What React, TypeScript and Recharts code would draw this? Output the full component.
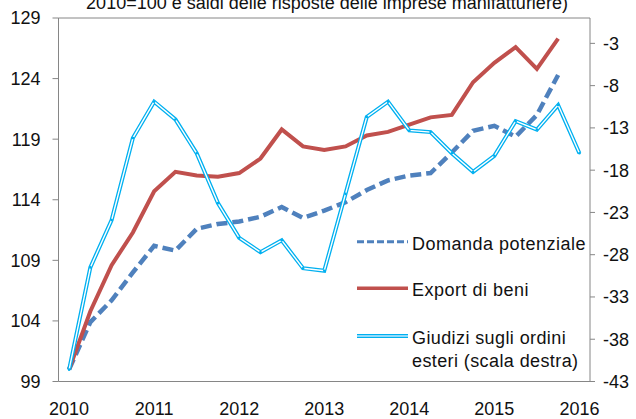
import React from "react";
import {
  LineChart,
  Line,
  XAxis,
  YAxis,
  ReferenceLine,
  Customized,
} from "recharts";

const periods = [
  "2010-T1", "2010-T2", "2010-T3", "2010-T4",
  "2011-T1", "2011-T2", "2011-T3", "2011-T4",
  "2012-T1", "2012-T2", "2012-T3", "2012-T4",
  "2013-T1", "2013-T2", "2013-T3", "2013-T4",
  "2014-T1", "2014-T2", "2014-T3", "2014-T4",
  "2015-T1", "2015-T2", "2015-T3", "2015-T4",
  "2016-T1",
];

const domandaPotenziale = [
  100.0, 103.9, 105.7, 108.0, 110.2, 109.8, 111.6, 112.0, 112.2, 112.6, 113.4, 112.5,
  113.1, 113.8, 114.8, 115.6, 116.0, 116.2, 117.9, 119.7, 120.1, 119.2, 121.0, 124.3, null,
];

const exportDiBeni = [
  100.0, 104.8, 108.6, 111.3, 114.7, 116.3, 116.0, 115.9, 116.2, 117.4, 119.8, 118.4,
  118.1, 118.4, 119.3, 119.6, 120.2, 120.8, 121.0, 123.7, 125.3, 126.6, 124.8, 127.3, null,
];

const giudiziOrdini = [
  -41.6, -29.5, -23.9, -14.2, -9.9, -12.0, -16.0, -21.9, -26.0, -27.7, -26.3, -29.6,
  -29.9, -20.8, -11.7, -9.9, -13.3, -13.5, -16.0, -18.2, -16.3, -12.2, -13.2, -10.3, -16.0,
];

const leftTicks = [99, 104, 109, 114, 119, 124, 129];
const rightTicks = [-43, -38, -33, -28, -23, -18, -13, -8, -3];

const legendLabels = ["Domanda potenziale", "Export di beni", "Giudizi sugli ordini", "esteri (scala destra)"];
const titleText = "2010=100 e saldi delle risposte delle imprese manifatturiere)";

const data = periods.map((p, i) => ({
  period: p,
  domanda: domandaPotenziale[i],
  export: exportDiBeni[i],
  giudizi: giudiziOrdini[i],
}));

const FONT = "'Liberation Sans', Arial, sans-serif";
const AXIS = "#868686";
const BLUE = "#4F81BD";
const RED = "#C0504D";
const CYAN = "#00B0F0";

const Overlay = () => (
  <g fontFamily={FONT} fontSize={18} fill="#111">
    <text x={327} y={9} textAnchor="middle">{titleText}</text>
    <line x1={357} x2={408} y1={241.7} y2={241.7} stroke={BLUE} strokeWidth={3} strokeDasharray="7 3" />
    <text x={412} y={249.5} letterSpacing={0.5}>{legendLabels[0]}</text>
    <line x1={357} x2={408} y1={288.3} y2={288.3} stroke={RED} strokeWidth={3.5} />
    <text x={412} y={296} letterSpacing={0.5}>{legendLabels[1]}</text>
    <line x1={357} x2={408} y1={336} y2={336} stroke={CYAN} strokeWidth={4} />
    <line x1={357} x2={408} y1={336} y2={336} stroke="#bfeaff" strokeWidth={1.3} />
    <text x={412} y={344} letterSpacing={0.4}>{legendLabels[2]}</text>
    <text x={412} y={366.7} letterSpacing={0.4}>{legendLabels[3]}</text>
  </g>
);

export default function App() {
  return (
    <div style={{ position: "absolute", left: 0, top: 0, width: 636, height: 419, background: "#fff" }}>
      <LineChart
        width={636}
        height={419}
        data={data}
        margin={{ top: 18, right: 0, bottom: 0, left: 0 }}
      >
        <XAxis
          dataKey="period"
          interval={3}
          tickFormatter={(v: string) => v.slice(0, 4)}
          height={37.5}
          padding={{ left: 10.6, right: 10.6 }}
          tickLine={false}
          tickSize={0}
          tickMargin={21}
          axisLine={{ stroke: AXIS, strokeWidth: 1 }}
          tick={{ fontSize: 18, fontFamily: FONT, fill: "#111" }}
        />
        <YAxis
          yAxisId="left"
          orientation="left"
          width={58.5}
          domain={[99, 129]}
          ticks={leftTicks}
          interval={0}
          allowDataOverflow
          tickSize={6}
          tickMargin={12}
          axisLine={{ stroke: AXIS }}
          tickLine={{ stroke: AXIS }}
          tick={{ fontSize: 18, fontFamily: FONT, fill: "#111" }}
        />
        <YAxis
          yAxisId="right"
          orientation="right"
          width={46}
          domain={[-43, 0]}
          ticks={rightTicks}
          interval={0}
          allowDataOverflow
          tickSize={5}
          tickMargin={8}
          axisLine={{ stroke: AXIS }}
          tickLine={{ stroke: AXIS }}
          tick={{ fontSize: 18, fontFamily: FONT, fill: "#111" }}
        />
        <ReferenceLine yAxisId="left" y={129} stroke={AXIS} strokeWidth={1} />
        <Line
          yAxisId="left"
          type="linear"
          dataKey="domanda"
          stroke={BLUE}
          strokeWidth={4.5}
          strokeDasharray="11 5"
          dot={false}
          activeDot={false}
          isAnimationActive={false}
        />
        <Line
          yAxisId="left"
          type="linear"
          dataKey="export"
          stroke={RED}
          strokeWidth={4}
          dot={false}
          activeDot={false}
          isAnimationActive={false}
        />
        <Line
          yAxisId="right"
          type="linear"
          dataKey="giudizi"
          stroke={CYAN}
          strokeWidth={4}
          dot={false}
          activeDot={false}
          isAnimationActive={false}
        />
        <Line
          yAxisId="right"
          type="linear"
          dataKey="giudizi"
          stroke="#ffffff"
          strokeWidth={1.4}
          dot={{ r: 1.3, fill: CYAN, stroke: "none" }}
          activeDot={false}
          isAnimationActive={false}
          legendType="none"
        />
        <Customized component={Overlay} />
      </LineChart>
    </div>
  );
}
